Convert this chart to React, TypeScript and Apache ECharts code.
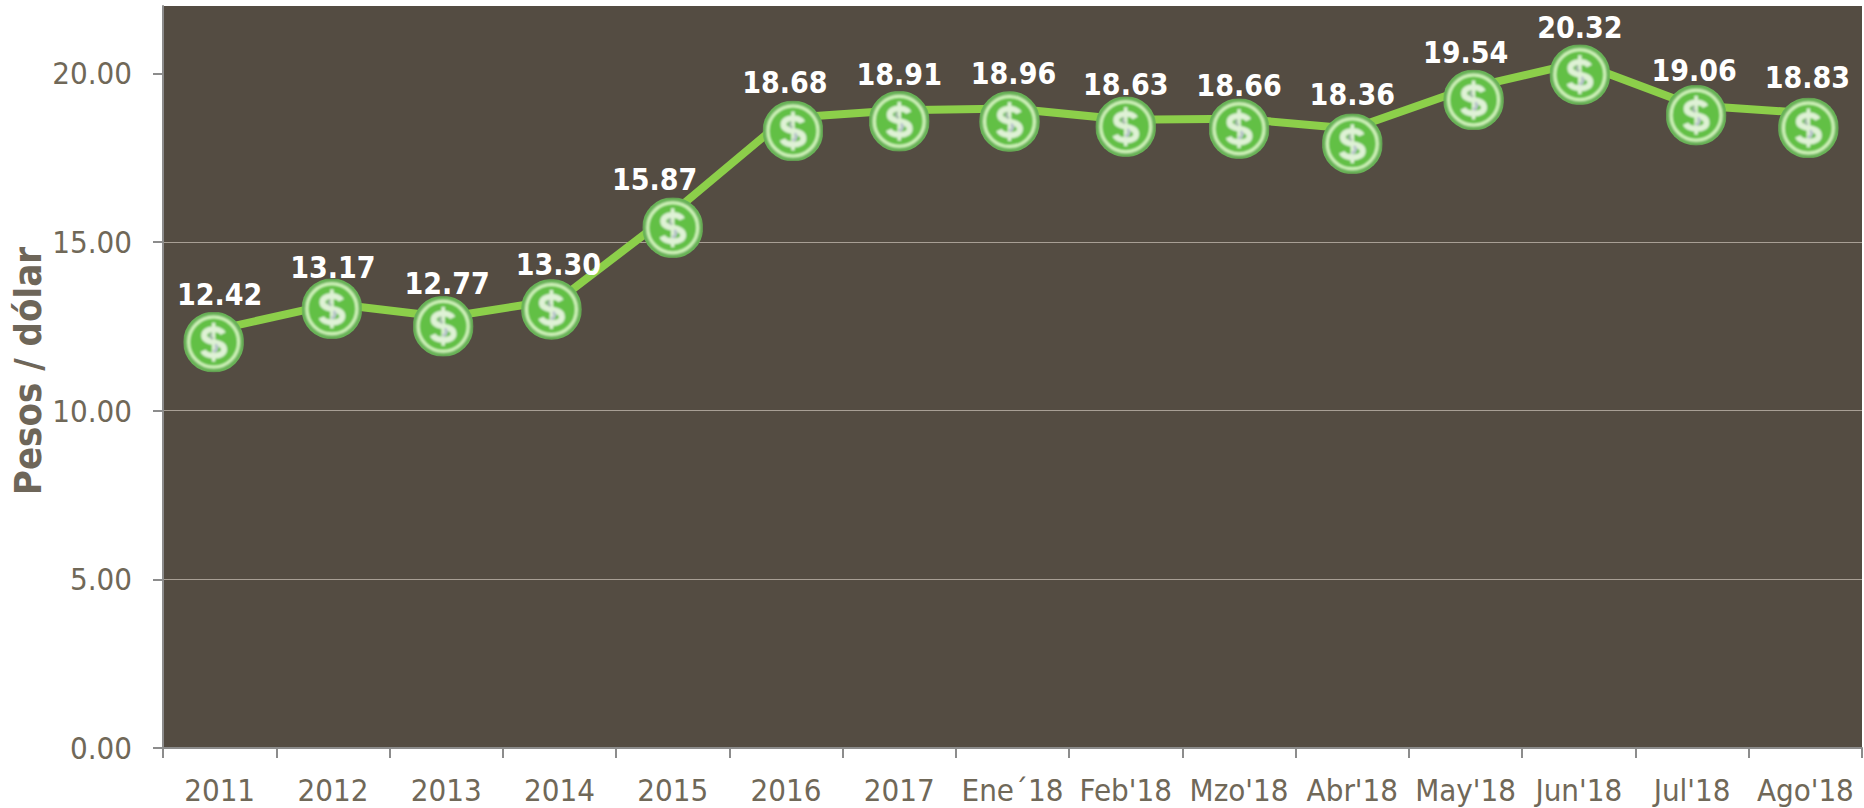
import React, { useEffect, useRef } from "react";
import * as echarts from "echarts";

const categories = ["2011", "2012", "2013", "2014", "2015", "2016", "2017", "Ene´18", "Feb'18", "Mzo'18", "Abr'18", "May'18", "Jun'18", "Jul'18", "Ago'18"];
const values = [12.42, 13.17, 12.77, 13.3, 15.87, 18.68, 18.91, 18.96, 18.63, 18.66, 18.36, 19.54, 20.32, 19.06, 18.83];
const markerShiftX = [-6, -1, -3, -8, 0, 7, 0, -3, 0, 0, 0, 8, 1, 4, 3];
const markerShiftY = [13, 5, 9, 10, 15, 13, 11, 13, 7, 10, 15, 11, 12, 10, 15];
const labelShiftX = [6, 1, 4, 7, -18, -8, 0, 4, 0, 0, 0, -8, 0, -2, -1];
const labelShiftY = [-2, 4, 3, 1, -3, -3, -1, -3, 3, 2, -4, -2, -2, 1, -5];
const yTicks = [0, 5, 10, 15, 20];

const FONT = "'DejaVu Sans Condensed', 'DejaVu Sans', Tahoma, sans-serif";

const coinSvg = `<svg xmlns="http://www.w3.org/2000/svg" width="122" height="122" viewBox="0 0 122 122">
<defs><filter id="b" x="-10%" y="-10%" width="120%" height="120%"><feGaussianBlur stdDeviation="1.8"/></filter>
<clipPath id="c"><circle cx="61" cy="61" r="61"/></clipPath></defs>
<g clip-path="url(#c)"><g filter="url(#b)">
<rect width="122" height="122" fill="#68b257"/>
<circle cx="61" cy="61" r="50" fill="#62c044" stroke="#d3f4bd" stroke-width="6"/>
<path d="M80 44 C74 32 42 32 42 48 C42 66 82 56 82 76 C82 92 46 92 40 78" fill="none" stroke="#dff2d6" stroke-width="12"/>
<path d="M61 22 V100" stroke="#dff2d6" stroke-width="7"/>
<path d="M58 44 C52 46 54 52 60 54" fill="none" stroke="#9fb4a8" stroke-width="5"/>
<path d="M64 66 C70 70 68 78 60 80" fill="none" stroke="#b8c2cc" stroke-width="6"/>
</g></g></svg>`;
const coin = "image://data:image/svg+xml;charset=utf-8," + encodeURIComponent(coinSvg);

export default function App() {
  const ref = useRef<HTMLDivElement>(null);
  useEffect(() => {
    const chart = echarts.init(ref.current!, undefined, { renderer: "svg" });
    chart.setOption({
      animation: false,
      backgroundColor: "#ffffff",
      grid: { left: 163, right: 2, top: 6, bottom: 60, backgroundColor: "#544c42", show: true, borderWidth: 0, outerBoundsMode: "none" },
      xAxis: {
        type: "category",
        data: categories,
        boundaryGap: true,
        axisLine: { lineStyle: { color: "#8c8c8c", width: 2 } },
        axisTick: { show: true, length: 10, alignWithLabel: false, lineStyle: { color: "#8c8c8c", width: 2 } },
        axisLabel: { color: "#706858", fontFamily: FONT, fontSize: 31, margin: 26, interval: 0 },
      },
      yAxis: {
        type: "value",
        min: 0,
        max: 22,
        interval: 5,
        name: "Pesos / dólar",
        nameLocation: "middle",
        nameGap: 116,
        nameMoveOverlap: false,
        nameRotate: 90,
        nameTextStyle: { color: "#6e6659", fontFamily: FONT, fontSize: 38, fontWeight: "bold", padding: [0, 0, 0, 12] },
        axisLine: { show: true, lineStyle: { color: "#8c8c8c", width: 2 } },
        axisTick: { show: true, length: 10, customValues: yTicks, lineStyle: { color: "#8c8c8c", width: 2 } },
        axisLabel: {
          color: "#706858", fontFamily: FONT, fontSize: 31, margin: 31,
          customValues: yTicks,
          formatter: (v: number) => v.toFixed(2),
        },
        splitLine: { show: true, showMaxLine: false, showMinLine: false, lineStyle: { color: "#a89f95", width: 1 } },
      },
      series: [
        {
          type: "line",
          data: values.map((v, i) => ({
            value: v,
            symbolOffset: [markerShiftX[i], markerShiftY[i]],
            label: { offset: [labelShiftX[i], labelShiftY[i]] },
          })),
          symbol: coin,
          symbolSize: 61,
          showSymbol: true,
          lineStyle: { color: "#8ccf4a", width: 8 },
          itemStyle: { color: "#8ccf4a" },
          label: {
            show: true,
            position: "top",
            distance: 0,
            color: "#ffffff",
            fontFamily: FONT,
            fontSize: 30,
            fontWeight: "bold",
            formatter: (p: any) => Number(p.value).toFixed(2),
          },
          z: 3,
        },
      ],
    });
    return () => chart.dispose();
  }, []);
  return <div ref={ref} style={{ position: "fixed", left: 0, top: 0, width: 1864, height: 808 }} />;
}
